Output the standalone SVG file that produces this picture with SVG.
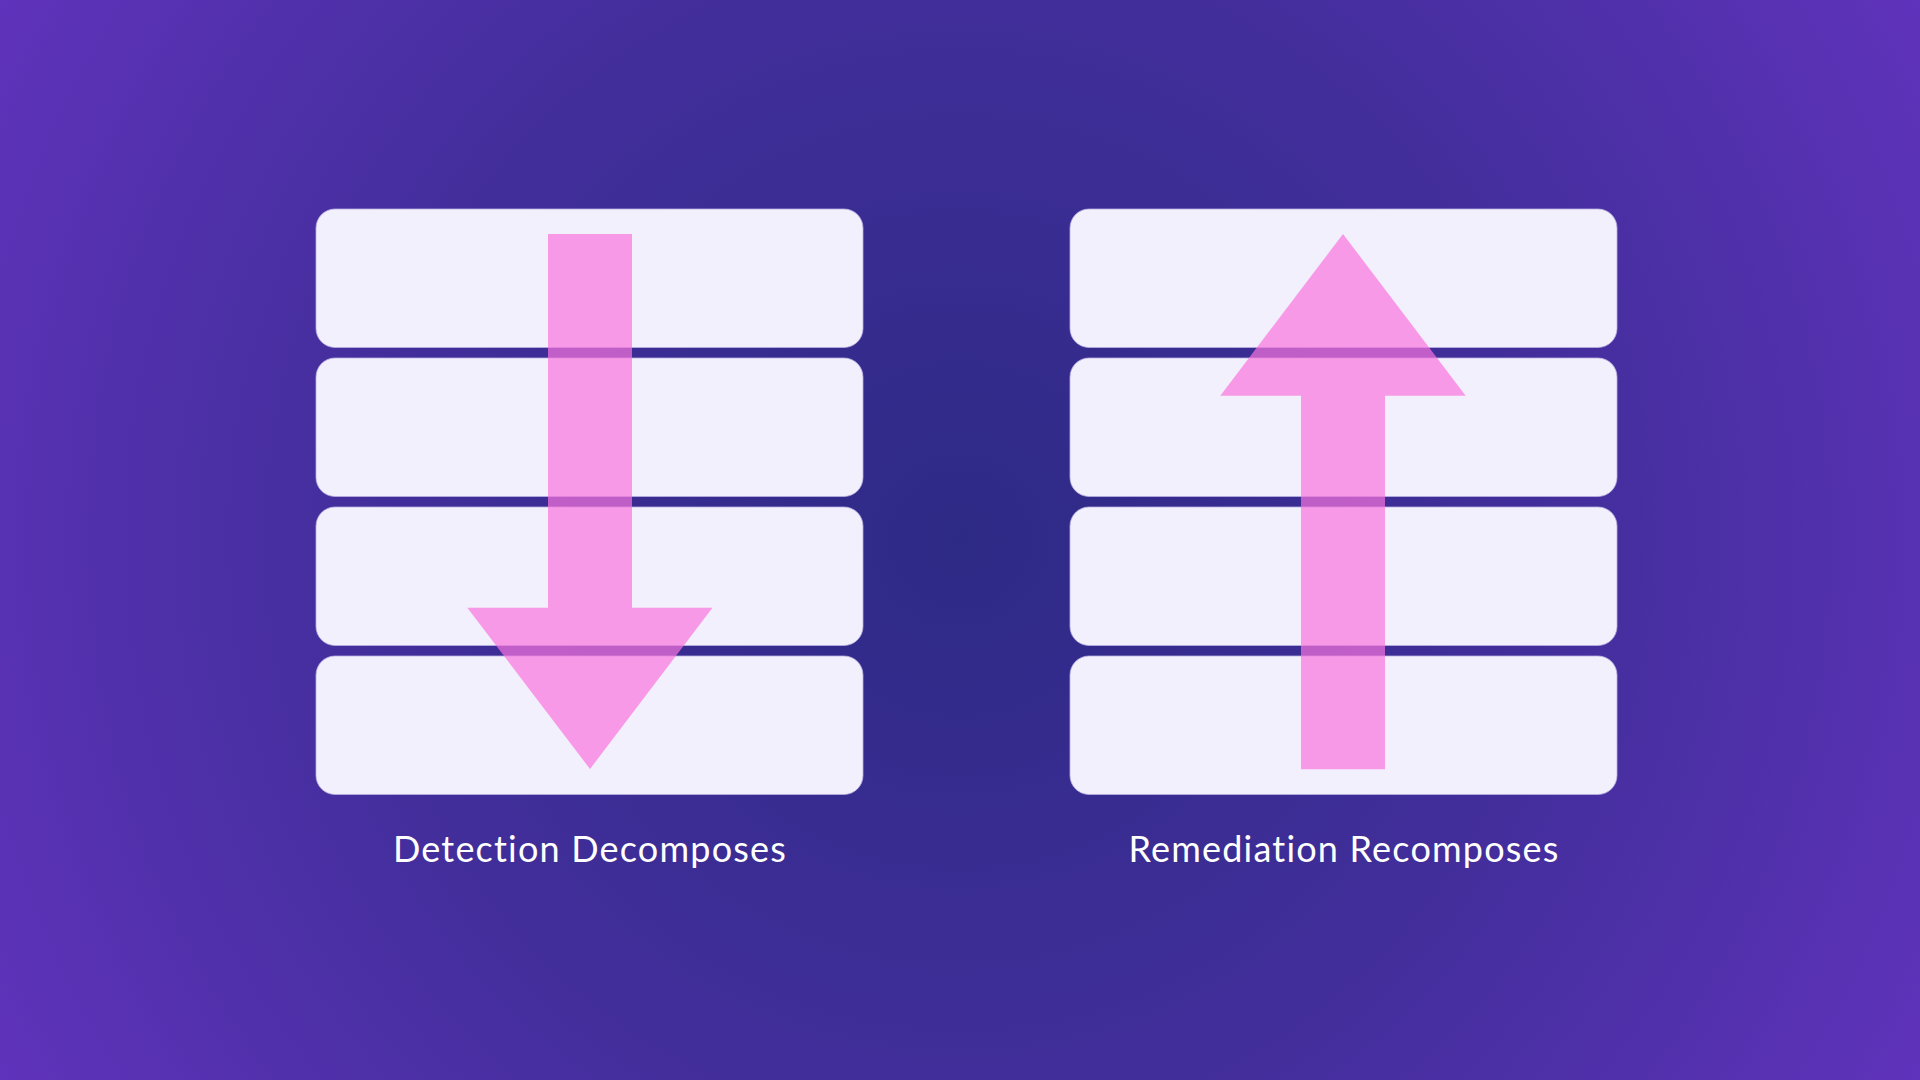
<svg xmlns="http://www.w3.org/2000/svg" width="1920" height="1080" viewBox="0 0 1920 1080">
  <defs>
    <radialGradient id="bg" cx="960" cy="540" r="1100" gradientUnits="userSpaceOnUse">
      <stop offset="0" stop-color="#2d2a85"/>
      <stop offset="0.55" stop-color="#432e9c"/>
      <stop offset="1" stop-color="#5f33bb"/>
    </radialGradient>
  </defs>
  <style>
    .layer { fill: #f3f0fd; stroke: #b8aee0; stroke-width: 0.8; }
    .arrow { fill: #fa74de; fill-opacity: 0.7; }
    .label { font-family: Lato, "Noto Sans", sans-serif; font-size: 36px; letter-spacing: 1.2px; font-variant-ligatures: none; fill: #ffffff; text-anchor: middle; }
  </style>
  <rect x="0" y="0" width="1920" height="1080" fill="url(#bg)"/>

  <g id="detection-stack">
    <rect class="layer" x="316" y="209" width="547" height="138.5" rx="19"/>
    <rect class="layer" x="316" y="358" width="547" height="138.5" rx="19"/>
    <rect class="layer" x="316" y="507" width="547" height="138.5" rx="19"/>
    <rect class="layer" x="316" y="656" width="547" height="138.5" rx="19"/>
    <text class="label" x="590" y="862">Detection Decomposes</text>
  </g>

  <g id="remediation-stack">
    <rect class="layer" x="1070" y="209" width="547" height="138.5" rx="19"/>
    <rect class="layer" x="1070" y="358" width="547" height="138.5" rx="19"/>
    <rect class="layer" x="1070" y="507" width="547" height="138.5" rx="19"/>
    <rect class="layer" x="1070" y="656" width="547" height="138.5" rx="19"/>
    <text class="label" x="1344" y="862">Remediation Recomposes</text>
  </g>

  <g id="connectors">
    <polygon id="arrow-down" class="arrow" points="548,234 632,234 632,607.7 712.5,607.7 590,769 467.3,607.7 548,607.7"/>
    <polygon id="arrow-up" class="arrow" points="1343,234 1465.7,395.7 1385,395.7 1385,769.3 1301,769.3 1301,395.7 1220.3,395.7"/>
  </g>
</svg>
